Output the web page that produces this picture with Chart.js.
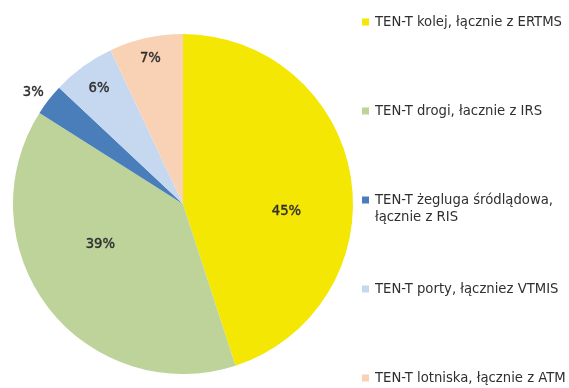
<!DOCTYPE html>
<html lang="pl">
<head>
<meta charset="utf-8">
<title>TEN-T</title>
<script src="https://cdn.jsdelivr.net/npm/chart.js@4.4.1/dist/chart.umd.min.js"></script>
<style>
  html, body { margin: 0; padding: 0; background: #fff; }
  #wrap { width: 569px; height: 388px; position: relative; }
</style>
</head>
<body>
<div id="wrap"><canvas id="pieChart" width="569" height="388"></canvas></div>
<script>
const categories = [
  ["TEN-T kolej, łącznie z ERTMS"],
  ["TEN-T drogi, łacznie z IRS"],
  ["TEN-T żegluga śródlądowa,", "łącznie z RIS"],
  ["TEN-T porty, łączniez VTMIS"],
  ["TEN-T lotniska, łącznie z ATM"]
];
const shares = [45, 39, 3, 6, 7];
const sliceColors = ["#f5e704", "#bdd39a", "#4a7ebb", "#c6d8ef", "#f9d2b6"];

const FONT = "14.7px 'Liberation Sans Narrow', 'Arial Narrow', 'DejaVu Sans Condensed', sans-serif";
const TEXT_COLOR = "#2f2f2f";

// label distance from the centre (fraction of radius) and angular shift in degrees
const labelPlacement = [
  { r: 0.61, turn: 13 },
  { r: 0.54, turn: 12 },
  { r: 1.1, turn: -1 },
  { r: 0.84, turn: 0 },
  { r: 0.88, turn: 0 }
];

const sliceLabels = {
  id: "sliceLabels",
  afterDatasetsDraw(chart) {
    const ctx = chart.ctx;
    const meta = chart.getDatasetMeta(0);
    ctx.save();
    ctx.font = FONT;
    ctx.fillStyle = TEXT_COLOR;
    ctx.strokeStyle = TEXT_COLOR;
    ctx.lineWidth = 0.4;
    ctx.textAlign = "center";
    ctx.textBaseline = "middle";
    meta.data.forEach((arc, i) => {
      const p = arc.getProps(["x", "y", "startAngle", "endAngle", "outerRadius"], true);
      const mid = (p.startAngle + p.endAngle) / 2 + labelPlacement[i].turn * Math.PI / 180;
      const r = p.outerRadius * labelPlacement[i].r;
      const tx = p.x + Math.cos(mid) * r;
      const ty = p.y + Math.sin(mid) * r;
      ctx.fillText(shares[i] + "%", tx, ty);
      ctx.strokeText(shares[i] + "%", tx, ty);
    });
    ctx.restore();
  }
};

const sideLegend = {
  id: "sideLegend",
  afterDraw(chart) {
    const ctx = chart.ctx;
    const x = 362;
    const top = 22;
    const step = 89;
    ctx.save();
    ctx.font = FONT;
    ctx.textBaseline = "middle";
    categories.forEach((lines, i) => {
      const y = top + i * step;
      ctx.fillStyle = sliceColors[i];
      ctx.fillRect(x, y - 3.5, 7, 7);
      ctx.fillStyle = TEXT_COLOR;
      lines.forEach((line, k) => ctx.fillText(line, x + 13, y + k * 17));
    });
    ctx.restore();
  }
};

new Chart(document.getElementById("pieChart"), {
  type: "pie",
  data: {
    labels: categories.map((c) => c.join(" ")),
    datasets: [
      {
        data: shares,
        backgroundColor: sliceColors,
        borderWidth: 0
      }
    ]
  },
  options: {
    responsive: false,
    animation: false,
    layout: {
      padding: { left: 13, top: 33, right: 216, bottom: 13 }
    },
    plugins: {
      legend: { display: false },
      tooltip: { enabled: false }
    }
  },
  plugins: [sliceLabels, sideLegend]
});
</script>
</body>
</html>
